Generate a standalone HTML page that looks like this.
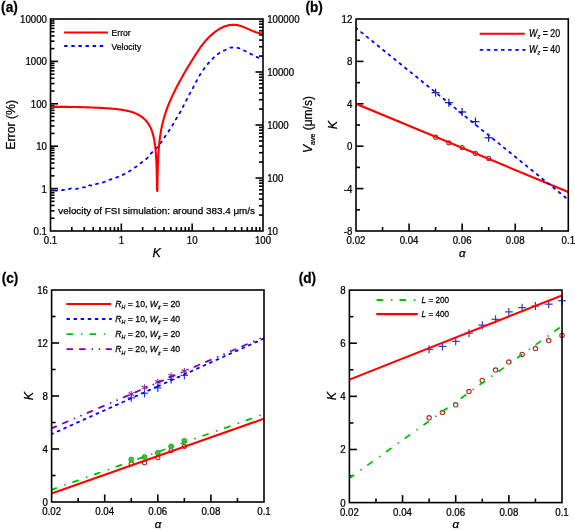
<!DOCTYPE html>
<html><head><meta charset="utf-8"><title>Figure</title>
<style>
html,body{margin:0;padding:0;background:#fff;}
body{width:575px;height:530px;overflow:hidden;}
svg{display:block;font-family:"Liberation Sans", sans-serif;filter:blur(0.3px);}
text{stroke:#000;stroke-width:0.25px;}
</style></head>
<body>
<svg width="575" height="530" viewBox="0 0 575 530">
<rect width="575" height="530" fill="#fff"/>
<defs>
<clipPath id="clipA"><rect x="50.5" y="19.0" width="212.5" height="212.0"/></clipPath>
<clipPath id="clipB"><rect x="356.0" y="19.0" width="212.29999999999995" height="212.0"/></clipPath>
<clipPath id="clipC"><rect x="51.6" y="290.0" width="212.4" height="212.0"/></clipPath>
<clipPath id="clipD"><rect x="349.4" y="290.1" width="212.60000000000002" height="212.5"/></clipPath>
</defs>
<line x1="71.82" y1="231" x2="71.82" y2="227" stroke="#000" stroke-width="1.6" />
<line x1="84.3" y1="231" x2="84.3" y2="227" stroke="#000" stroke-width="1.6" />
<line x1="93.15" y1="231" x2="93.15" y2="227" stroke="#000" stroke-width="1.6" />
<line x1="100.01" y1="231" x2="100.01" y2="227" stroke="#000" stroke-width="1.6" />
<line x1="105.62" y1="231" x2="105.62" y2="227" stroke="#000" stroke-width="1.6" />
<line x1="110.36" y1="231" x2="110.36" y2="227" stroke="#000" stroke-width="1.6" />
<line x1="114.47" y1="231" x2="114.47" y2="227" stroke="#000" stroke-width="1.6" />
<line x1="118.09" y1="231" x2="118.09" y2="227" stroke="#000" stroke-width="1.6" />
<line x1="121.33" y1="231" x2="121.33" y2="223.5" stroke="#000" stroke-width="1.6" />
<line x1="142.66" y1="231" x2="142.66" y2="227" stroke="#000" stroke-width="1.6" />
<line x1="155.13" y1="231" x2="155.13" y2="227" stroke="#000" stroke-width="1.6" />
<line x1="163.98" y1="231" x2="163.98" y2="227" stroke="#000" stroke-width="1.6" />
<line x1="170.84" y1="231" x2="170.84" y2="227" stroke="#000" stroke-width="1.6" />
<line x1="176.45" y1="231" x2="176.45" y2="227" stroke="#000" stroke-width="1.6" />
<line x1="181.19" y1="231" x2="181.19" y2="227" stroke="#000" stroke-width="1.6" />
<line x1="185.3" y1="231" x2="185.3" y2="227" stroke="#000" stroke-width="1.6" />
<line x1="188.93" y1="231" x2="188.93" y2="227" stroke="#000" stroke-width="1.6" />
<line x1="192.17" y1="231" x2="192.17" y2="223.5" stroke="#000" stroke-width="1.6" />
<line x1="213.49" y1="231" x2="213.49" y2="227" stroke="#000" stroke-width="1.6" />
<line x1="225.96" y1="231" x2="225.96" y2="227" stroke="#000" stroke-width="1.6" />
<line x1="234.81" y1="231" x2="234.81" y2="227" stroke="#000" stroke-width="1.6" />
<line x1="241.68" y1="231" x2="241.68" y2="227" stroke="#000" stroke-width="1.6" />
<line x1="247.29" y1="231" x2="247.29" y2="227" stroke="#000" stroke-width="1.6" />
<line x1="252.03" y1="231" x2="252.03" y2="227" stroke="#000" stroke-width="1.6" />
<line x1="256.14" y1="231" x2="256.14" y2="227" stroke="#000" stroke-width="1.6" />
<line x1="259.76" y1="231" x2="259.76" y2="227" stroke="#000" stroke-width="1.6" />
<line x1="50.5" y1="218.24" x2="54.5" y2="218.24" stroke="#000" stroke-width="1.6" />
<line x1="50.5" y1="210.77" x2="54.5" y2="210.77" stroke="#000" stroke-width="1.6" />
<line x1="50.5" y1="205.47" x2="54.5" y2="205.47" stroke="#000" stroke-width="1.6" />
<line x1="50.5" y1="201.36" x2="54.5" y2="201.36" stroke="#000" stroke-width="1.6" />
<line x1="50.5" y1="198.01" x2="54.5" y2="198.01" stroke="#000" stroke-width="1.6" />
<line x1="50.5" y1="195.17" x2="54.5" y2="195.17" stroke="#000" stroke-width="1.6" />
<line x1="50.5" y1="192.71" x2="54.5" y2="192.71" stroke="#000" stroke-width="1.6" />
<line x1="50.5" y1="190.54" x2="54.5" y2="190.54" stroke="#000" stroke-width="1.6" />
<line x1="50.5" y1="188.6" x2="58" y2="188.6" stroke="#000" stroke-width="1.6" />
<line x1="50.5" y1="175.84" x2="54.5" y2="175.84" stroke="#000" stroke-width="1.6" />
<line x1="50.5" y1="168.37" x2="54.5" y2="168.37" stroke="#000" stroke-width="1.6" />
<line x1="50.5" y1="163.07" x2="54.5" y2="163.07" stroke="#000" stroke-width="1.6" />
<line x1="50.5" y1="158.96" x2="54.5" y2="158.96" stroke="#000" stroke-width="1.6" />
<line x1="50.5" y1="155.61" x2="54.5" y2="155.61" stroke="#000" stroke-width="1.6" />
<line x1="50.5" y1="152.77" x2="54.5" y2="152.77" stroke="#000" stroke-width="1.6" />
<line x1="50.5" y1="150.31" x2="54.5" y2="150.31" stroke="#000" stroke-width="1.6" />
<line x1="50.5" y1="148.14" x2="54.5" y2="148.14" stroke="#000" stroke-width="1.6" />
<line x1="50.5" y1="146.2" x2="58" y2="146.2" stroke="#000" stroke-width="1.6" />
<line x1="50.5" y1="133.44" x2="54.5" y2="133.44" stroke="#000" stroke-width="1.6" />
<line x1="50.5" y1="125.97" x2="54.5" y2="125.97" stroke="#000" stroke-width="1.6" />
<line x1="50.5" y1="120.67" x2="54.5" y2="120.67" stroke="#000" stroke-width="1.6" />
<line x1="50.5" y1="116.56" x2="54.5" y2="116.56" stroke="#000" stroke-width="1.6" />
<line x1="50.5" y1="113.21" x2="54.5" y2="113.21" stroke="#000" stroke-width="1.6" />
<line x1="50.5" y1="110.37" x2="54.5" y2="110.37" stroke="#000" stroke-width="1.6" />
<line x1="50.5" y1="107.91" x2="54.5" y2="107.91" stroke="#000" stroke-width="1.6" />
<line x1="50.5" y1="105.74" x2="54.5" y2="105.74" stroke="#000" stroke-width="1.6" />
<line x1="50.5" y1="103.8" x2="58" y2="103.8" stroke="#000" stroke-width="1.6" />
<line x1="50.5" y1="91.04" x2="54.5" y2="91.04" stroke="#000" stroke-width="1.6" />
<line x1="50.5" y1="83.57" x2="54.5" y2="83.57" stroke="#000" stroke-width="1.6" />
<line x1="50.5" y1="78.27" x2="54.5" y2="78.27" stroke="#000" stroke-width="1.6" />
<line x1="50.5" y1="74.16" x2="54.5" y2="74.16" stroke="#000" stroke-width="1.6" />
<line x1="50.5" y1="70.81" x2="54.5" y2="70.81" stroke="#000" stroke-width="1.6" />
<line x1="50.5" y1="67.97" x2="54.5" y2="67.97" stroke="#000" stroke-width="1.6" />
<line x1="50.5" y1="65.51" x2="54.5" y2="65.51" stroke="#000" stroke-width="1.6" />
<line x1="50.5" y1="63.34" x2="54.5" y2="63.34" stroke="#000" stroke-width="1.6" />
<line x1="50.5" y1="61.4" x2="58" y2="61.4" stroke="#000" stroke-width="1.6" />
<line x1="50.5" y1="48.64" x2="54.5" y2="48.64" stroke="#000" stroke-width="1.6" />
<line x1="50.5" y1="41.17" x2="54.5" y2="41.17" stroke="#000" stroke-width="1.6" />
<line x1="50.5" y1="35.87" x2="54.5" y2="35.87" stroke="#000" stroke-width="1.6" />
<line x1="50.5" y1="31.76" x2="54.5" y2="31.76" stroke="#000" stroke-width="1.6" />
<line x1="50.5" y1="28.41" x2="54.5" y2="28.41" stroke="#000" stroke-width="1.6" />
<line x1="50.5" y1="25.57" x2="54.5" y2="25.57" stroke="#000" stroke-width="1.6" />
<line x1="50.5" y1="23.11" x2="54.5" y2="23.11" stroke="#000" stroke-width="1.6" />
<line x1="50.5" y1="20.94" x2="54.5" y2="20.94" stroke="#000" stroke-width="1.6" />
<line x1="263" y1="215.05" x2="259" y2="215.05" stroke="#000" stroke-width="1.6" />
<line x1="263" y1="205.71" x2="259" y2="205.71" stroke="#000" stroke-width="1.6" />
<line x1="263" y1="199.09" x2="259" y2="199.09" stroke="#000" stroke-width="1.6" />
<line x1="263" y1="193.95" x2="259" y2="193.95" stroke="#000" stroke-width="1.6" />
<line x1="263" y1="189.76" x2="259" y2="189.76" stroke="#000" stroke-width="1.6" />
<line x1="263" y1="186.21" x2="259" y2="186.21" stroke="#000" stroke-width="1.6" />
<line x1="263" y1="183.14" x2="259" y2="183.14" stroke="#000" stroke-width="1.6" />
<line x1="263" y1="180.43" x2="259" y2="180.43" stroke="#000" stroke-width="1.6" />
<line x1="263" y1="178" x2="255.5" y2="178" stroke="#000" stroke-width="1.6" />
<line x1="263" y1="162.05" x2="259" y2="162.05" stroke="#000" stroke-width="1.6" />
<line x1="263" y1="152.71" x2="259" y2="152.71" stroke="#000" stroke-width="1.6" />
<line x1="263" y1="146.09" x2="259" y2="146.09" stroke="#000" stroke-width="1.6" />
<line x1="263" y1="140.95" x2="259" y2="140.95" stroke="#000" stroke-width="1.6" />
<line x1="263" y1="136.76" x2="259" y2="136.76" stroke="#000" stroke-width="1.6" />
<line x1="263" y1="133.21" x2="259" y2="133.21" stroke="#000" stroke-width="1.6" />
<line x1="263" y1="130.14" x2="259" y2="130.14" stroke="#000" stroke-width="1.6" />
<line x1="263" y1="127.43" x2="259" y2="127.43" stroke="#000" stroke-width="1.6" />
<line x1="263" y1="125" x2="255.5" y2="125" stroke="#000" stroke-width="1.6" />
<line x1="263" y1="109.05" x2="259" y2="109.05" stroke="#000" stroke-width="1.6" />
<line x1="263" y1="99.71" x2="259" y2="99.71" stroke="#000" stroke-width="1.6" />
<line x1="263" y1="93.09" x2="259" y2="93.09" stroke="#000" stroke-width="1.6" />
<line x1="263" y1="87.95" x2="259" y2="87.95" stroke="#000" stroke-width="1.6" />
<line x1="263" y1="83.76" x2="259" y2="83.76" stroke="#000" stroke-width="1.6" />
<line x1="263" y1="80.21" x2="259" y2="80.21" stroke="#000" stroke-width="1.6" />
<line x1="263" y1="77.14" x2="259" y2="77.14" stroke="#000" stroke-width="1.6" />
<line x1="263" y1="74.43" x2="259" y2="74.43" stroke="#000" stroke-width="1.6" />
<line x1="263" y1="72" x2="255.5" y2="72" stroke="#000" stroke-width="1.6" />
<line x1="263" y1="56.05" x2="259" y2="56.05" stroke="#000" stroke-width="1.6" />
<line x1="263" y1="46.71" x2="259" y2="46.71" stroke="#000" stroke-width="1.6" />
<line x1="263" y1="40.09" x2="259" y2="40.09" stroke="#000" stroke-width="1.6" />
<line x1="263" y1="34.95" x2="259" y2="34.95" stroke="#000" stroke-width="1.6" />
<line x1="263" y1="30.76" x2="259" y2="30.76" stroke="#000" stroke-width="1.6" />
<line x1="263" y1="27.21" x2="259" y2="27.21" stroke="#000" stroke-width="1.6" />
<line x1="263" y1="24.14" x2="259" y2="24.14" stroke="#000" stroke-width="1.6" />
<line x1="263" y1="21.43" x2="259" y2="21.43" stroke="#000" stroke-width="1.6" />
<g clip-path="url(#clipA)">
<polyline points="50.5,190.3 50.93,190.34 51.35,190.38 51.78,190.4 52.2,190.43 52.63,190.46 53.06,190.48 53.48,190.5 53.91,190.53 54.33,190.55 54.76,190.56 55.18,190.58 55.61,190.59 56.04,190.6 56.46,190.6 56.89,190.59 57.31,190.58 57.74,190.55 58.17,190.51 58.59,190.47 59.02,190.42 59.44,190.36 59.87,190.3 60.29,190.25 60.72,190.19 61.15,190.14 61.57,190.09 62,190.05 62.42,190.01 62.85,189.99 63.28,189.96 63.7,189.95 64.13,189.93 64.55,189.92 64.98,189.91 65.4,189.89 65.83,189.87 66.26,189.85 66.68,189.82 67.11,189.79 67.53,189.7 67.96,189.56 68.39,189.38 68.81,189.18 69.24,188.97 69.66,188.79 70.09,188.63 70.52,188.53 70.94,188.5 71.37,188.52 71.79,188.56 72.22,188.61 72.64,188.68 73.07,188.75 73.5,188.83 73.92,188.89 74.35,188.95 74.77,188.99 75.2,189 75.63,188.98 76.05,188.94 76.48,188.86 76.9,188.77 77.33,188.66 77.75,188.54 78.18,188.41 78.61,188.28 79.03,188.15 79.46,188.03 79.88,187.91 80.31,187.82 80.74,187.74 81.16,187.67 81.59,187.62 82.01,187.57 82.44,187.52 82.86,187.47 83.29,187.41 83.72,187.35 84.14,187.27 84.57,187.18 84.99,187.06 85.42,186.87 85.85,186.39 86.27,185.79 86.7,185.32 87.12,185.2 87.55,185.21 87.97,185.23 88.4,185.26 88.83,185.3 89.25,185.34 89.68,185.38 90.1,185.42 90.53,185.45 90.96,185.48 91.38,185.5 91.81,185.5 92.23,185.46 92.66,185.38 93.09,185.26 93.51,185.12 93.94,184.95 94.36,184.77 94.79,184.59 95.21,184.41 95.64,184.25 96.07,184.1 96.49,183.98 96.92,183.87 97.34,183.77 97.77,183.68 98.2,183.59 98.62,183.5 99.05,183.42 99.47,183.33 99.9,183.25 100.32,183.16 100.75,183.07 101.18,182.97 101.6,182.86 102.03,182.75 102.45,182.62 102.88,182.48 103.31,182.33 103.73,182.17 104.16,182 104.58,181.82 105.01,181.63 105.43,181.45 105.86,181.26 106.29,181.07 106.71,180.88 107.14,180.7 107.56,180.53 107.99,180.37 108.42,180.21 108.84,180.05 109.27,179.89 109.69,179.74 110.12,179.58 110.55,179.43 110.97,179.28 111.4,179.13 111.82,178.98 112.25,178.83 112.67,178.68 113.1,178.53 113.53,178.39 113.95,178.25 114.38,178.11 114.8,177.97 115.23,177.84 115.66,177.7 116.08,177.57 116.51,177.43 116.93,177.3 117.36,177.16 117.78,177.01 118.21,176.86 118.64,176.7 119.06,176.54 119.49,176.37 119.91,176.19 120.34,176.01 120.77,175.82 121.19,175.63 121.62,175.43 122.04,175.23 122.47,175.02 122.89,174.81 123.32,174.6 123.75,174.39 124.17,174.17 124.6,173.95 125.02,173.73 125.45,173.51 125.88,173.28 126.3,173.04 126.73,172.8 127.15,172.56 127.58,172.31 128.01,172.06 128.43,171.81 128.86,171.55 129.28,171.29 129.71,171.03 130.13,170.77 130.56,170.5 130.99,170.23 131.41,169.95 131.84,169.67 132.26,169.39 132.69,169.1 133.12,168.81 133.54,168.52 133.97,168.22 134.39,167.92 134.82,167.62 135.24,167.32 135.67,167.01 136.1,166.7 136.52,166.39 136.95,166.08 137.37,165.76 137.8,165.43 138.23,165.11 138.65,164.78 139.08,164.45 139.5,164.12 139.93,163.78 140.35,163.45 140.78,163.12 141.21,162.78 141.63,162.45 142.06,162.13 142.48,161.81 142.91,161.5 143.34,161.19 143.76,160.88 144.19,160.57 144.61,160.26 145.04,159.94 145.46,159.61 145.89,159.27 146.32,158.91 146.74,158.53 147.17,158.13 147.59,157.69 148.02,157.21 148.45,156.69 148.87,156.14 149.3,155.58 149.72,155.01 150.15,154.46 150.58,153.92 151,153.42 151.43,152.96 151.85,152.53 152.28,152.11 152.7,151.71 153.13,151.33 153.56,150.95 153.98,150.58 154.41,150.2 154.83,149.82 155.26,149.44 155.69,149.04 156.11,148.62 156.54,148.19 156.96,147.73 157.39,147.25 157.81,146.74 158.24,146.22 158.67,145.68 159.09,145.13 159.52,144.56 159.94,143.99 160.37,143.41 160.8,142.82 161.22,142.23 161.65,141.62 162.07,141 162.5,140.37 162.92,139.72 163.35,139.07 163.78,138.41 164.2,137.76 164.63,137.11 165.05,136.47 165.48,135.84 165.91,135.21 166.33,134.59 166.76,133.96 167.18,133.34 167.61,132.72 168.04,132.09 168.46,131.46 168.89,130.82 169.31,130.18 169.74,129.53 170.16,128.89 170.59,128.23 171.02,127.58 171.44,126.92 171.87,126.24 172.29,125.56 172.72,124.87 173.15,124.16 173.57,123.43 174,122.68 174.42,121.93 174.85,121.17 175.27,120.41 175.7,119.66 176.13,118.91 176.55,118.18 176.98,117.47 177.4,116.77 177.83,116.09 178.26,115.4 178.68,114.72 179.11,114.02 179.53,113.31 179.96,112.57 180.38,111.81 180.81,111.02 181.24,110.22 181.66,109.4 182.09,108.57 182.51,107.74 182.94,106.9 183.37,106.07 183.79,105.23 184.22,104.37 184.64,103.51 185.07,102.65 185.49,101.79 185.92,100.94 186.35,100.1 186.77,99.28 187.2,98.46 187.62,97.65 188.05,96.85 188.48,96.05 188.9,95.26 189.33,94.47 189.75,93.69 190.18,92.91 190.61,92.15 191.03,91.39 191.46,90.64 191.88,89.89 192.31,89.13 192.73,88.36 193.16,87.57 193.59,86.77 194.01,85.95 194.44,85.12 194.86,84.27 195.29,83.43 195.72,82.59 196.14,81.76 196.57,80.94 196.99,80.14 197.42,79.34 197.84,78.54 198.27,77.74 198.7,76.96 199.12,76.2 199.55,75.45 199.97,74.74 200.4,74.06 200.83,73.39 201.25,72.74 201.68,72.1 202.1,71.48 202.53,70.87 202.95,70.27 203.38,69.68 203.81,69.09 204.23,68.51 204.66,67.94 205.08,67.38 205.51,66.83 205.94,66.29 206.36,65.75 206.79,65.22 207.21,64.7 207.64,64.18 208.07,63.68 208.49,63.18 208.92,62.68 209.34,62.19 209.77,61.71 210.19,61.23 210.62,60.76 211.05,60.29 211.47,59.84 211.9,59.4 212.32,58.97 212.75,58.55 213.18,58.14 213.6,57.73 214.03,57.33 214.45,56.93 214.88,56.54 215.3,56.16 215.73,55.78 216.16,55.42 216.58,55.06 217.01,54.72 217.43,54.39 217.86,54.08 218.29,53.78 218.71,53.49 219.14,53.22 219.56,52.95 219.99,52.7 220.41,52.45 220.84,52.21 221.27,51.97 221.69,51.74 222.12,51.52 222.54,51.3 222.97,51.09 223.4,50.88 223.82,50.67 224.25,50.47 224.67,50.27 225.1,50.05 225.53,49.83 225.95,49.6 226.38,49.37 226.8,49.13 227.23,48.9 227.65,48.68 228.08,48.47 228.51,48.27 228.93,48.08 229.36,47.92 229.78,47.78 230.21,47.66 230.64,47.58 231.06,47.52 231.49,47.5 231.91,47.5 232.34,47.51 232.76,47.52 233.19,47.54 233.62,47.56 234.04,47.59 234.47,47.62 234.89,47.65 235.32,47.69 235.75,47.73 236.17,47.77 236.6,47.82 237.02,47.87 237.45,47.92 237.87,47.97 238.3,48.03 238.73,48.11 239.15,48.22 239.58,48.35 240,48.51 240.43,48.68 240.86,48.87 241.28,49.06 241.71,49.27 242.13,49.49 242.56,49.71 242.98,49.94 243.41,50.16 243.84,50.38 244.26,50.59 244.69,50.79 245.11,51 245.54,51.2 245.97,51.41 246.39,51.63 246.82,51.85 247.24,52.07 247.67,52.29 248.1,52.52 248.52,52.74 248.95,52.97 249.37,53.19 249.8,53.42 250.22,53.64 250.65,53.87 251.08,54.09 251.5,54.3 251.93,54.52 252.35,54.73 252.78,54.95 253.21,55.16 253.63,55.38 254.06,55.59 254.48,55.8 254.91,56.01 255.33,56.23 255.76,56.44 256.19,56.65 256.61,56.86 257.04,57.07 257.46,57.28 257.89,57.49 258.32,57.71 258.74,57.92 259.17,58.13 259.59,58.34 260.02,58.54 260.44,58.75 260.87,58.96 261.3,59.17 261.72,59.38 262.15,59.59 262.57,59.79 263,60" fill="none" stroke="#0000ff" stroke-width="1.8" stroke-linejoin="round"  stroke-dasharray="2.000 5.100" stroke-dashoffset="2.600" stroke-linecap="round"/>
<polyline points="50.5,106.9 51.14,106.89 51.77,106.89 52.41,106.88 53.05,106.88 53.69,106.87 54.33,106.87 54.96,106.87 55.6,106.87 56.24,106.86 56.88,106.86 57.51,106.86 58.15,106.86 58.79,106.86 59.42,106.86 60.06,106.86 60.7,106.86 61.34,106.87 61.98,106.87 62.61,106.87 63.25,106.88 63.89,106.88 64.53,106.88 65.16,106.89 65.8,106.89 66.44,106.9 67.08,106.91 67.71,106.91 68.35,106.92 68.99,106.93 69.62,106.94 70.26,106.94 70.9,106.95 71.54,106.96 72.18,106.97 72.81,106.98 73.45,106.99 74.09,107 74.73,107.02 75.36,107.03 76,107.04 76.64,107.05 77.28,107.07 77.91,107.08 78.55,107.1 79.19,107.11 79.83,107.13 80.46,107.14 81.1,107.16 81.74,107.18 82.38,107.19 83.01,107.21 83.65,107.23 84.29,107.25 84.93,107.27 85.56,107.29 86.2,107.31 86.84,107.33 87.47,107.35 88.11,107.37 88.75,107.39 89.39,107.42 90.03,107.44 90.66,107.46 91.3,107.49 91.94,107.51 92.57,107.54 93.21,107.57 93.85,107.59 94.49,107.62 95.12,107.65 95.76,107.68 96.4,107.7 97.04,107.73 97.67,107.76 98.31,107.8 98.95,107.83 99.59,107.86 100.22,107.89 100.86,107.92 101.5,107.96 102.14,107.99 102.78,108.03 103.41,108.07 104.05,108.1 104.69,108.14 105.33,108.18 105.96,108.22 106.6,108.26 107.24,108.3 107.88,108.35 108.51,108.39 109.15,108.44 109.79,108.49 110.42,108.54 111.06,108.59 111.7,108.64 112.34,108.7 112.97,108.75 113.61,108.81 114.25,108.87 114.89,108.93 115.53,109 116.16,109.07 116.8,109.14 117.44,109.21 118.08,109.29 118.71,109.36 119.35,109.45 119.99,109.53 120.62,109.62 121.26,109.71 121.9,109.81 122.54,109.91 123.18,110.01 123.81,110.12 124.45,110.23 125.09,110.35 125.73,110.47 126.36,110.6 127,110.74 127.64,110.88 128.28,111.03 128.91,111.18 129.55,111.35 130.19,111.52 130.83,111.7 131.46,111.89 132.1,112.08 132.74,112.29 133.38,112.52 133.94,112.72 134.51,112.94 135.07,113.16 135.64,113.4 136.21,113.65 136.77,113.91 137.34,114.18 137.91,114.47 138.47,114.77 139.04,115.09 139.61,115.42 140.18,115.77 140.74,116.14 141.31,116.52 141.8,116.88 142.3,117.25 142.8,117.64 143.29,118.05 143.79,118.48 144.28,118.93 144.78,119.41 145.2,119.83 145.63,120.28 146.05,120.75 146.48,121.24 146.9,121.75 147.33,122.29 147.75,122.86 148.11,123.36 148.46,123.89 148.82,124.44 149.17,125.02 149.53,125.64 149.88,126.29 150.16,126.83 150.45,127.41 150.73,128.02 151.01,128.66 151.3,129.34 151.58,130.06 151.79,130.63 152,131.22 152.22,131.85 152.43,132.51 152.64,133.21 152.85,133.94 153.07,134.72 153.28,135.55 153.49,136.43 153.63,137.04 153.77,137.69 153.92,138.37 154.06,139.08 154.2,139.83 154.34,140.62 154.48,141.45 154.62,142.34 154.77,143.27 154.91,144.27 155.05,145.34 155.19,146.49 155.26,147.09 155.33,147.72 155.4,148.38 155.47,149.06 155.55,149.78 155.62,150.52 155.69,151.31 155.76,152.13 155.83,153 155.9,153.91 155.97,154.88 156.04,155.9 156.11,156.99 156.18,158.16 156.25,159.42 156.32,160.77 156.4,162.24 156.47,163.84 156.54,165.61 156.61,167.58 156.68,169.79 156.75,172.33 156.82,175.29 156.89,178.83 156.96,183.25 157.03,189.12 157.22,190.95 157.39,190.91 157.46,184.35 157.53,179.51 157.6,175.66 157.67,172.46 157.74,169.72 157.81,167.33 157.88,165.19 157.95,163.28 158.03,161.53 158.1,159.92 158.17,158.44 158.24,157.06 158.31,155.77 158.38,154.56 158.45,153.42 158.52,152.33 158.59,151.31 158.66,150.33 158.73,149.39 158.8,148.5 158.88,147.64 158.95,146.82 159.02,146.03 159.09,145.26 159.16,144.53 159.23,143.81 159.3,143.12 159.37,142.46 159.44,141.81 159.51,141.18 159.58,140.57 159.65,139.97 159.8,138.82 159.94,137.73 160.08,136.69 160.22,135.7 160.36,134.74 160.5,133.83 160.65,132.94 160.79,132.09 160.93,131.27 161.07,130.47 161.21,129.7 161.35,128.95 161.5,128.22 161.64,127.51 161.78,126.83 161.92,126.15 162.06,125.5 162.2,124.86 162.35,124.24 162.49,123.62 162.63,123.03 162.77,122.44 162.98,121.58 163.2,120.75 163.41,119.94 163.62,119.16 163.83,118.39 164.05,117.64 164.26,116.91 164.47,116.19 164.68,115.49 164.9,114.8 165.11,114.13 165.32,113.47 165.53,112.82 165.75,112.18 165.96,111.55 166.17,110.94 166.38,110.33 166.6,109.73 166.81,109.15 167.02,108.57 167.23,107.99 167.45,107.43 167.73,106.69 168.01,105.96 168.3,105.24 168.58,104.53 168.86,103.83 169.15,103.15 169.43,102.47 169.71,101.8 170,101.13 170.28,100.48 170.56,99.83 170.85,99.19 171.13,98.56 171.41,97.93 171.7,97.31 171.98,96.69 172.26,96.08 172.55,95.47 172.83,94.87 173.11,94.27 173.4,93.68 173.68,93.09 173.96,92.51 174.25,91.93 174.53,91.35 174.81,90.78 175.1,90.21 175.38,89.64 175.66,89.08 175.95,88.52 176.23,87.97 176.51,87.41 176.8,86.86 177.08,86.32 177.36,85.77 177.65,85.23 177.93,84.69 178.21,84.16 178.5,83.62 178.78,83.09 179.13,82.43 179.49,81.77 179.84,81.12 180.2,80.47 180.55,79.82 180.9,79.18 181.26,78.54 181.61,77.9 181.97,77.27 182.32,76.64 182.68,76.01 183.03,75.39 183.38,74.77 183.74,74.15 184.09,73.53 184.45,72.92 184.8,72.31 185.15,71.7 185.51,71.09 185.86,70.49 186.22,69.89 186.57,69.29 186.93,68.69 187.28,68.1 187.63,67.51 187.99,66.92 188.34,66.33 188.7,65.75 189.05,65.16 189.4,64.58 189.76,64 190.11,63.42 190.47,62.85 190.82,62.27 191.18,61.7 191.53,61.13 191.88,60.56 192.24,59.99 192.59,59.42 192.95,58.86 193.3,58.29 193.65,57.73 194.01,57.17 194.36,56.61 194.72,56.05 195.07,55.49 195.43,54.94 195.78,54.38 196.13,53.83 196.49,53.28 196.84,52.73 197.2,52.18 197.55,51.64 197.9,51.1 198.26,50.57 198.61,50.04 198.97,49.51 199.32,48.99 199.67,48.48 200.03,47.97 200.38,47.47 200.74,46.97 201.09,46.48 201.52,45.91 201.94,45.34 202.37,44.78 202.79,44.23 203.22,43.69 203.64,43.16 204.07,42.64 204.49,42.13 204.92,41.62 205.34,41.13 205.77,40.64 206.19,40.16 206.62,39.69 207.04,39.23 207.47,38.77 207.89,38.32 208.32,37.88 208.74,37.45 209.17,37.03 209.66,36.54 210.16,36.06 210.65,35.6 211.15,35.14 211.65,34.69 212.14,34.26 212.64,33.83 213.13,33.41 213.63,33 214.12,32.6 214.62,32.21 215.12,31.83 215.61,31.46 216.11,31.1 216.6,30.75 217.1,30.41 217.67,30.03 218.23,29.67 218.8,29.32 219.37,28.98 219.93,28.65 220.5,28.34 221.07,28.04 221.63,27.75 222.2,27.48 222.77,27.22 223.33,26.97 223.9,26.74 224.47,26.52 225.03,26.31 225.67,26.09 226.31,25.89 226.95,25.71 227.58,25.54 228.22,25.39 228.86,25.26 229.5,25.14 230.13,25.04 230.77,24.96 231.41,24.9 232.05,24.86 232.68,24.83 233.32,24.82 233.96,24.82 234.6,24.85 235.23,24.89 235.87,24.95 236.51,25.03 237.15,25.13 237.78,25.24 238.42,25.38 239.06,25.53 239.7,25.7 240.33,25.88 240.97,26.09 241.61,26.3 242.18,26.5 242.74,26.71 243.31,26.93 243.88,27.16 244.44,27.39 245.01,27.63 245.58,27.87 246.14,28.12 246.71,28.37 247.28,28.63 247.84,28.88 248.41,29.14 248.98,29.4 249.54,29.65 250.11,29.9 250.68,30.16 251.24,30.4 251.81,30.65 252.38,30.89 252.94,31.12 253.51,31.35 254.08,31.56 254.64,31.77 255.21,31.97 255.85,32.19 256.48,32.39 257.12,32.57 257.76,32.74 258.4,32.89 259.03,33.02 259.67,33.13 260.31,33.22 260.95,33.29 261.58,33.33 262.22,33.35 262.86,33.34 263,33.33" fill="none" stroke="#ff0000" stroke-width="2.1" stroke-linejoin="round"  />
</g>
<rect x="50.5" y="19" width="212.5" height="212" fill="none" stroke="#000" stroke-width="1.6"/>
<line x1="64" y1="32.5" x2="108" y2="32.5" stroke="#ff0000" stroke-width="2.1" />
<line x1="64" y1="46" x2="103" y2="46" stroke="#0000ff" stroke-width="1.8" stroke-dasharray="2.000 5.100" stroke-dashoffset="-0.900" stroke-linecap="round"/>
<text transform="translate(111.5,36) scale(0.9,1)" font-size="9.6" text-anchor="start" font-weight="normal" font-style="normal" fill="#000">Error</text>
<text transform="translate(111.5,49.6) scale(0.9,1)" font-size="9.6" text-anchor="start" font-weight="normal" font-style="normal" fill="#000">Velocity</text>
<text transform="translate(58.3,213.6)" font-size="9.85" text-anchor="start" font-weight="normal" font-style="normal" fill="#000">velocity of FSI simulation: around 383.4 μm/s</text>
<text transform="translate(47,22.9) scale(0.97,1)" font-size="10.0" text-anchor="end" font-weight="normal" font-style="normal" fill="#000">10000</text>
<text transform="translate(47,65.3) scale(0.97,1)" font-size="10.0" text-anchor="end" font-weight="normal" font-style="normal" fill="#000">1000</text>
<text transform="translate(47,107.7) scale(0.97,1)" font-size="10.0" text-anchor="end" font-weight="normal" font-style="normal" fill="#000">100</text>
<text transform="translate(47,150.1) scale(0.97,1)" font-size="10.0" text-anchor="end" font-weight="normal" font-style="normal" fill="#000">10</text>
<text transform="translate(47,192.5) scale(0.97,1)" font-size="10.0" text-anchor="end" font-weight="normal" font-style="normal" fill="#000">1</text>
<text transform="translate(47,234.9) scale(0.97,1)" font-size="10.0" text-anchor="end" font-weight="normal" font-style="normal" fill="#000">0.1</text>
<text transform="translate(267.2,22.9) scale(0.97,1)" font-size="10.0" text-anchor="start" font-weight="normal" font-style="normal" fill="#000">100000</text>
<text transform="translate(267.2,75.9) scale(0.97,1)" font-size="10.0" text-anchor="start" font-weight="normal" font-style="normal" fill="#000">10000</text>
<text transform="translate(267.2,128.9) scale(0.97,1)" font-size="10.0" text-anchor="start" font-weight="normal" font-style="normal" fill="#000">1000</text>
<text transform="translate(267.2,181.9) scale(0.97,1)" font-size="10.0" text-anchor="start" font-weight="normal" font-style="normal" fill="#000">100</text>
<text transform="translate(267.2,234.9) scale(0.97,1)" font-size="10.0" text-anchor="start" font-weight="normal" font-style="normal" fill="#000">10</text>
<text transform="translate(50.5,244.2) scale(0.97,1)" font-size="10.0" text-anchor="middle" font-weight="normal" font-style="normal" fill="#000">0.1</text>
<text transform="translate(121.33,244.2) scale(0.97,1)" font-size="10.0" text-anchor="middle" font-weight="normal" font-style="normal" fill="#000">1</text>
<text transform="translate(192.17,244.2) scale(0.97,1)" font-size="10.0" text-anchor="middle" font-weight="normal" font-style="normal" fill="#000">10</text>
<text transform="translate(263,244.2) scale(0.97,1)" font-size="10.0" text-anchor="middle" font-weight="normal" font-style="normal" fill="#000">100</text>
<text transform="translate(156.7,257)" font-size="12.5" text-anchor="middle" font-weight="normal" font-style="italic" fill="#000">K</text>
<text transform="translate(15.4,124.8) rotate(-90)" font-size="12.3" text-anchor="middle" font-weight="normal" font-style="normal" fill="#000">Error (%)</text>
<text transform="translate(312.2,124.5) rotate(-90)" font-size="12" text-anchor="middle"><tspan font-style="italic">V</tspan><tspan font-size="7" dy="2.5">ave</tspan><tspan dy="-2.5"> (μm/s)</tspan></text>
<text transform="translate(1.1,11.5) scale(0.945,1)" font-size="14.4" text-anchor="start" font-weight="bold" font-style="normal" fill="#000">(a)</text>
<line x1="382.54" y1="231" x2="382.54" y2="227" stroke="#000" stroke-width="1.6" />
<line x1="409.07" y1="231" x2="409.07" y2="223.5" stroke="#000" stroke-width="1.6" />
<line x1="435.61" y1="231" x2="435.61" y2="227" stroke="#000" stroke-width="1.6" />
<line x1="462.15" y1="231" x2="462.15" y2="223.5" stroke="#000" stroke-width="1.6" />
<line x1="488.69" y1="231" x2="488.69" y2="227" stroke="#000" stroke-width="1.6" />
<line x1="515.22" y1="231" x2="515.22" y2="223.5" stroke="#000" stroke-width="1.6" />
<line x1="541.76" y1="231" x2="541.76" y2="227" stroke="#000" stroke-width="1.6" />
<line x1="356" y1="209.8" x2="360" y2="209.8" stroke="#000" stroke-width="1.6" />
<line x1="356" y1="188.6" x2="363.5" y2="188.6" stroke="#000" stroke-width="1.6" />
<line x1="356" y1="167.4" x2="360" y2="167.4" stroke="#000" stroke-width="1.6" />
<line x1="356" y1="146.2" x2="363.5" y2="146.2" stroke="#000" stroke-width="1.6" />
<line x1="356" y1="125" x2="360" y2="125" stroke="#000" stroke-width="1.6" />
<line x1="356" y1="103.8" x2="363.5" y2="103.8" stroke="#000" stroke-width="1.6" />
<line x1="356" y1="82.6" x2="360" y2="82.6" stroke="#000" stroke-width="1.6" />
<line x1="356" y1="61.4" x2="363.5" y2="61.4" stroke="#000" stroke-width="1.6" />
<line x1="356" y1="40.2" x2="360" y2="40.2" stroke="#000" stroke-width="1.6" />
<circle cx="435.61" cy="137.19" r="2.1" fill="none" stroke="#b02828" stroke-width="1.1"/>
<circle cx="448.88" cy="142.81" r="2.1" fill="none" stroke="#b02828" stroke-width="1.1"/>
<circle cx="462.15" cy="147.58" r="2.1" fill="none" stroke="#b02828" stroke-width="1.1"/>
<circle cx="475.42" cy="153.3" r="2.1" fill="none" stroke="#b02828" stroke-width="1.1"/>
<circle cx="488.69" cy="158.39" r="2.1" fill="none" stroke="#b02828" stroke-width="1.1"/>
<line x1="431.61" y1="92.67" x2="439.61" y2="92.67" stroke="#1c1ca8" stroke-width="1.25" />
<line x1="435.61" y1="88.67" x2="435.61" y2="96.67" stroke="#1c1ca8" stroke-width="1.25" />
<line x1="444.88" y1="102.63" x2="452.88" y2="102.63" stroke="#1c1ca8" stroke-width="1.25" />
<line x1="448.88" y1="98.63" x2="448.88" y2="106.63" stroke="#1c1ca8" stroke-width="1.25" />
<line x1="458.15" y1="111.96" x2="466.15" y2="111.96" stroke="#1c1ca8" stroke-width="1.25" />
<line x1="462.15" y1="107.96" x2="462.15" y2="115.96" stroke="#1c1ca8" stroke-width="1.25" />
<line x1="471.42" y1="121.61" x2="479.42" y2="121.61" stroke="#1c1ca8" stroke-width="1.25" />
<line x1="475.42" y1="117.61" x2="475.42" y2="125.61" stroke="#1c1ca8" stroke-width="1.25" />
<line x1="484.69" y1="137.72" x2="492.69" y2="137.72" stroke="#1c1ca8" stroke-width="1.25" />
<line x1="488.69" y1="133.72" x2="488.69" y2="141.72" stroke="#1c1ca8" stroke-width="1.25" />
<g clip-path="url(#clipB)">
<line x1="356" y1="103.8" x2="568.3" y2="191.99" stroke="#ff0000" stroke-width="2.1" />
<line x1="356" y1="28.01" x2="568.3" y2="199.73" stroke="#0000ff" stroke-width="1.8" stroke-dasharray="1.980 5.080" stroke-dashoffset="0.440" stroke-linecap="round"/>
</g>
<rect x="356" y="19" width="212.3" height="212" fill="none" stroke="#000" stroke-width="1.6"/>
<line x1="479.6" y1="33.7" x2="524.8" y2="33.7" stroke="#ff0000" stroke-width="2.1" />
<line x1="479.6" y1="49.9" x2="524.8" y2="49.9" stroke="#0000ff" stroke-width="1.8" stroke-dasharray="2.000 5.100" stroke-dashoffset="-0.900" stroke-linecap="round"/>
<text transform="translate(529.1,36.8) scale(0.88,1)" font-size="10"><tspan font-style="italic">W</tspan><tspan font-style="italic" font-size="6.5" dy="2.2">z</tspan><tspan dy="-2.2"> = 20</tspan></text>
<text transform="translate(529.1,52.8) scale(0.88,1)" font-size="10"><tspan font-style="italic">W</tspan><tspan font-style="italic" font-size="6.5" dy="2.2">z</tspan><tspan dy="-2.2"> = 40</tspan></text>
<text transform="translate(352.3,22.9) scale(0.97,1)" font-size="10.0" text-anchor="end" font-weight="normal" font-style="normal" fill="#000">12</text>
<text transform="translate(352.3,65.3) scale(0.97,1)" font-size="10.0" text-anchor="end" font-weight="normal" font-style="normal" fill="#000">8</text>
<text transform="translate(352.3,107.7) scale(0.97,1)" font-size="10.0" text-anchor="end" font-weight="normal" font-style="normal" fill="#000">4</text>
<text transform="translate(352.3,150.1) scale(0.97,1)" font-size="10.0" text-anchor="end" font-weight="normal" font-style="normal" fill="#000">0</text>
<text transform="translate(352.3,192.5) scale(0.97,1)" font-size="10.0" text-anchor="end" font-weight="normal" font-style="normal" fill="#000">-4</text>
<text transform="translate(352.3,234.9) scale(0.97,1)" font-size="10.0" text-anchor="end" font-weight="normal" font-style="normal" fill="#000">-8</text>
<text transform="translate(356,243.9) scale(0.97,1)" font-size="10.0" text-anchor="middle" font-weight="normal" font-style="normal" fill="#000">0.02</text>
<text transform="translate(409.07,243.9) scale(0.97,1)" font-size="10.0" text-anchor="middle" font-weight="normal" font-style="normal" fill="#000">0.04</text>
<text transform="translate(462.15,243.9) scale(0.97,1)" font-size="10.0" text-anchor="middle" font-weight="normal" font-style="normal" fill="#000">0.06</text>
<text transform="translate(515.22,243.9) scale(0.97,1)" font-size="10.0" text-anchor="middle" font-weight="normal" font-style="normal" fill="#000">0.08</text>
<text transform="translate(568.3,243.9) scale(0.97,1)" font-size="10.0" text-anchor="middle" font-weight="normal" font-style="normal" fill="#000">0.1</text>
<text transform="translate(462.2,257.3)" font-size="11.6" text-anchor="middle" font-weight="normal" font-style="italic" fill="#000">α</text>
<text transform="translate(337,125) rotate(-90)" font-size="12.5" text-anchor="middle" font-weight="normal" font-style="italic" fill="#000">K</text>
<text transform="translate(305.4,11.5) scale(0.945,1)" font-size="14.4" text-anchor="start" font-weight="bold" font-style="normal" fill="#000">(b)</text>
<line x1="78.15" y1="502" x2="78.15" y2="498" stroke="#000" stroke-width="1.6" />
<line x1="104.7" y1="502" x2="104.7" y2="494.5" stroke="#000" stroke-width="1.6" />
<line x1="131.25" y1="502" x2="131.25" y2="498" stroke="#000" stroke-width="1.6" />
<line x1="157.8" y1="502" x2="157.8" y2="494.5" stroke="#000" stroke-width="1.6" />
<line x1="184.35" y1="502" x2="184.35" y2="498" stroke="#000" stroke-width="1.6" />
<line x1="210.9" y1="502" x2="210.9" y2="494.5" stroke="#000" stroke-width="1.6" />
<line x1="237.45" y1="502" x2="237.45" y2="498" stroke="#000" stroke-width="1.6" />
<line x1="51.6" y1="475.5" x2="55.6" y2="475.5" stroke="#000" stroke-width="1.6" />
<line x1="51.6" y1="449" x2="59.1" y2="449" stroke="#000" stroke-width="1.6" />
<line x1="51.6" y1="422.5" x2="55.6" y2="422.5" stroke="#000" stroke-width="1.6" />
<line x1="51.6" y1="396" x2="59.1" y2="396" stroke="#000" stroke-width="1.6" />
<line x1="51.6" y1="369.5" x2="55.6" y2="369.5" stroke="#000" stroke-width="1.6" />
<line x1="51.6" y1="343" x2="59.1" y2="343" stroke="#000" stroke-width="1.6" />
<line x1="51.6" y1="316.5" x2="55.6" y2="316.5" stroke="#000" stroke-width="1.6" />
<circle cx="131.25" cy="463.71" r="2.1" fill="none" stroke="#b02828" stroke-width="1.1"/>
<circle cx="144.53" cy="462.65" r="2.1" fill="none" stroke="#b02828" stroke-width="1.1"/>
<circle cx="157.8" cy="457.61" r="2.1" fill="none" stroke="#b02828" stroke-width="1.1"/>
<circle cx="171.08" cy="450.59" r="2.1" fill="none" stroke="#b02828" stroke-width="1.1"/>
<circle cx="184.35" cy="446.35" r="2.1" fill="none" stroke="#b02828" stroke-width="1.1"/>
<circle cx="131.25" cy="459.47" r="2.55" fill="#38c038" stroke="#1e961e" stroke-width="0.6"/>
<circle cx="144.53" cy="456.95" r="2.55" fill="#38c038" stroke="#1e961e" stroke-width="0.6"/>
<circle cx="157.8" cy="452.84" r="2.55" fill="#38c038" stroke="#1e961e" stroke-width="0.6"/>
<circle cx="171.08" cy="446.35" r="2.55" fill="#38c038" stroke="#1e961e" stroke-width="0.6"/>
<circle cx="184.35" cy="440.78" r="2.55" fill="#38c038" stroke="#1e961e" stroke-width="0.6"/>
<line x1="127.55" y1="397.86" x2="134.95" y2="397.86" stroke="#2238ec" stroke-width="1.15" />
<line x1="131.25" y1="393.66" x2="131.25" y2="402.06" stroke="#2238ec" stroke-width="1.15" />
<line x1="140.83" y1="393.22" x2="148.22" y2="393.22" stroke="#2238ec" stroke-width="1.15" />
<line x1="144.53" y1="389.02" x2="144.53" y2="397.42" stroke="#2238ec" stroke-width="1.15" />
<line x1="154.1" y1="387.92" x2="161.5" y2="387.92" stroke="#2238ec" stroke-width="1.15" />
<line x1="157.8" y1="383.72" x2="157.8" y2="392.12" stroke="#2238ec" stroke-width="1.15" />
<line x1="167.38" y1="379.44" x2="174.78" y2="379.44" stroke="#2238ec" stroke-width="1.15" />
<line x1="171.08" y1="375.24" x2="171.08" y2="383.64" stroke="#2238ec" stroke-width="1.15" />
<line x1="180.65" y1="375.33" x2="188.05" y2="375.33" stroke="#2238ec" stroke-width="1.15" />
<line x1="184.35" y1="371.13" x2="184.35" y2="379.53" stroke="#2238ec" stroke-width="1.15" />
<line x1="131.25" y1="390.94" x2="131.25" y2="397.34" stroke="#8a2aa0" stroke-width="1.1" />
<line x1="128.48" y1="392.54" x2="134.02" y2="395.75" stroke="#8a2aa0" stroke-width="1.1" />
<line x1="128.48" y1="395.75" x2="134.02" y2="392.54" stroke="#8a2aa0" stroke-width="1.1" />
<line x1="144.53" y1="384.32" x2="144.53" y2="390.72" stroke="#8a2aa0" stroke-width="1.1" />
<line x1="141.75" y1="385.92" x2="147.3" y2="389.12" stroke="#8a2aa0" stroke-width="1.1" />
<line x1="141.75" y1="389.12" x2="147.3" y2="385.92" stroke="#8a2aa0" stroke-width="1.1" />
<line x1="157.8" y1="378.75" x2="157.8" y2="385.15" stroke="#8a2aa0" stroke-width="1.1" />
<line x1="155.03" y1="380.35" x2="160.57" y2="383.56" stroke="#8a2aa0" stroke-width="1.1" />
<line x1="155.03" y1="383.56" x2="160.57" y2="380.35" stroke="#8a2aa0" stroke-width="1.1" />
<line x1="171.08" y1="372.53" x2="171.08" y2="378.93" stroke="#8a2aa0" stroke-width="1.1" />
<line x1="168.3" y1="374.13" x2="173.85" y2="377.33" stroke="#8a2aa0" stroke-width="1.1" />
<line x1="168.3" y1="377.33" x2="173.85" y2="374.13" stroke="#8a2aa0" stroke-width="1.1" />
<line x1="184.35" y1="367.89" x2="184.35" y2="374.29" stroke="#8a2aa0" stroke-width="1.1" />
<line x1="181.58" y1="369.49" x2="187.12" y2="372.69" stroke="#8a2aa0" stroke-width="1.1" />
<line x1="181.58" y1="372.69" x2="187.12" y2="369.49" stroke="#8a2aa0" stroke-width="1.1" />
<g clip-path="url(#clipC)">
<line x1="51.6" y1="434.16" x2="157.8" y2="386.33" stroke="#0000ff" stroke-width="1.8" stroke-dasharray="2.000 5.100" stroke-dashoffset="0.450" stroke-linecap="round"/>
<line x1="157.8" y1="386.33" x2="264" y2="338.5" stroke="#0000ff" stroke-width="1.8" stroke-dasharray="2.000 5.100" stroke-dashoffset="-0.430" stroke-linecap="round"/>
<line x1="51.6" y1="428.33" x2="157.8" y2="382.62" stroke="#8000c0" stroke-width="1.8" stroke-dasharray="5.200 7.400 5.200 7.400 0.010 7.090 0.010 7.090" stroke-dashoffset="0.320" stroke-linecap="round"/>
<line x1="157.8" y1="382.62" x2="264" y2="336.9" stroke="#8000c0" stroke-width="1.8" stroke-dasharray="5.200 7.400 5.200 7.400 0.010 7.090 0.010 7.090" stroke-dashoffset="-0.500" stroke-linecap="round"/>
<line x1="51.6" y1="489.81" x2="264" y2="414.02" stroke="#00c000" stroke-width="1.8" stroke-dasharray="5.200 9.300 0.010 8.490" stroke-dashoffset="0.200" stroke-linecap="round"/>
<line x1="51.6" y1="493.52" x2="264" y2="418.66" stroke="#ff0000" stroke-width="2.1" />
</g>
<rect x="51.6" y="290" width="212.4" height="212" fill="none" stroke="#000" stroke-width="1.6"/>
<line x1="66.3" y1="304" x2="111.1" y2="304" stroke="#ff0000" stroke-width="2.1" />
<line x1="66.3" y1="319" x2="111.1" y2="319" stroke="#0000ff" stroke-width="1.8" stroke-dasharray="2.000 5.100" stroke-dashoffset="-0.900" stroke-linecap="round"/>
<line x1="66.3" y1="334.1" x2="111.1" y2="334.1" stroke="#00c000" stroke-width="1.8" stroke-dasharray="5.200 9.300 0.010 8.490" stroke-dashoffset="-0.900" stroke-linecap="round"/>
<line x1="66.3" y1="349.2" x2="111.1" y2="349.2" stroke="#8000c0" stroke-width="1.8" stroke-dasharray="5.200 7.400 5.200 7.400 0.010 7.090 0.010 7.090" stroke-dashoffset="-0.900" stroke-linecap="round"/>
<text transform="translate(115.3,306.8) scale(0.945,1)" font-size="9.2"><tspan font-style="italic">R</tspan><tspan font-style="italic" font-size="5.6" dy="2.5">H</tspan><tspan dy="-2.5"> = 10, </tspan><tspan font-style="italic">W</tspan><tspan font-style="italic" font-size="5.6" dy="2.5">z</tspan><tspan dy="-2.5"> = 20</tspan></text>
<text transform="translate(115.3,321.8) scale(0.945,1)" font-size="9.2"><tspan font-style="italic">R</tspan><tspan font-style="italic" font-size="5.6" dy="2.5">H</tspan><tspan dy="-2.5"> = 10, </tspan><tspan font-style="italic">W</tspan><tspan font-style="italic" font-size="5.6" dy="2.5">z</tspan><tspan dy="-2.5"> = 40</tspan></text>
<text transform="translate(115.3,336.9) scale(0.945,1)" font-size="9.2"><tspan font-style="italic">R</tspan><tspan font-style="italic" font-size="5.6" dy="2.5">H</tspan><tspan dy="-2.5"> = 20, </tspan><tspan font-style="italic">W</tspan><tspan font-style="italic" font-size="5.6" dy="2.5">z</tspan><tspan dy="-2.5"> = 20</tspan></text>
<text transform="translate(115.3,352.0) scale(0.945,1)" font-size="9.2"><tspan font-style="italic">R</tspan><tspan font-style="italic" font-size="5.6" dy="2.5">H</tspan><tspan dy="-2.5"> = 20, </tspan><tspan font-style="italic">W</tspan><tspan font-style="italic" font-size="5.6" dy="2.5">z</tspan><tspan dy="-2.5"> = 40</tspan></text>
<text transform="translate(48,293.9) scale(0.97,1)" font-size="10.0" text-anchor="end" font-weight="normal" font-style="normal" fill="#000">16</text>
<text transform="translate(48,346.9) scale(0.97,1)" font-size="10.0" text-anchor="end" font-weight="normal" font-style="normal" fill="#000">12</text>
<text transform="translate(48,399.9) scale(0.97,1)" font-size="10.0" text-anchor="end" font-weight="normal" font-style="normal" fill="#000">8</text>
<text transform="translate(48,452.9) scale(0.97,1)" font-size="10.0" text-anchor="end" font-weight="normal" font-style="normal" fill="#000">4</text>
<text transform="translate(48,505.9) scale(0.97,1)" font-size="10.0" text-anchor="end" font-weight="normal" font-style="normal" fill="#000">0</text>
<text transform="translate(51.6,515.3) scale(0.97,1)" font-size="10.0" text-anchor="middle" font-weight="normal" font-style="normal" fill="#000">0.02</text>
<text transform="translate(104.7,515.3) scale(0.97,1)" font-size="10.0" text-anchor="middle" font-weight="normal" font-style="normal" fill="#000">0.04</text>
<text transform="translate(157.8,515.3) scale(0.97,1)" font-size="10.0" text-anchor="middle" font-weight="normal" font-style="normal" fill="#000">0.06</text>
<text transform="translate(210.9,515.3) scale(0.97,1)" font-size="10.0" text-anchor="middle" font-weight="normal" font-style="normal" fill="#000">0.08</text>
<text transform="translate(264,515.3) scale(0.97,1)" font-size="10.0" text-anchor="middle" font-weight="normal" font-style="normal" fill="#000">0.1</text>
<text transform="translate(158,528)" font-size="11.6" text-anchor="middle" font-weight="normal" font-style="italic" fill="#000">α</text>
<text transform="translate(33.1,396) rotate(-90)" font-size="12.5" text-anchor="middle" font-weight="normal" font-style="italic" fill="#000">K</text>
<text transform="translate(1.7,282.6) scale(0.945,1)" font-size="14.4" text-anchor="start" font-weight="bold" font-style="normal" fill="#000">(c)</text>
<line x1="375.97" y1="502.6" x2="375.97" y2="498.6" stroke="#000" stroke-width="1.6" />
<line x1="402.55" y1="502.6" x2="402.55" y2="495.1" stroke="#000" stroke-width="1.6" />
<line x1="429.12" y1="502.6" x2="429.12" y2="498.6" stroke="#000" stroke-width="1.6" />
<line x1="455.7" y1="502.6" x2="455.7" y2="495.1" stroke="#000" stroke-width="1.6" />
<line x1="482.27" y1="502.6" x2="482.27" y2="498.6" stroke="#000" stroke-width="1.6" />
<line x1="508.85" y1="502.6" x2="508.85" y2="495.1" stroke="#000" stroke-width="1.6" />
<line x1="535.42" y1="502.6" x2="535.42" y2="498.6" stroke="#000" stroke-width="1.6" />
<line x1="349.4" y1="476.04" x2="353.4" y2="476.04" stroke="#000" stroke-width="1.6" />
<line x1="349.4" y1="449.48" x2="356.9" y2="449.48" stroke="#000" stroke-width="1.6" />
<line x1="349.4" y1="422.91" x2="353.4" y2="422.91" stroke="#000" stroke-width="1.6" />
<line x1="349.4" y1="396.35" x2="356.9" y2="396.35" stroke="#000" stroke-width="1.6" />
<line x1="349.4" y1="369.79" x2="353.4" y2="369.79" stroke="#000" stroke-width="1.6" />
<line x1="349.4" y1="343.23" x2="356.9" y2="343.23" stroke="#000" stroke-width="1.6" />
<line x1="349.4" y1="316.66" x2="353.4" y2="316.66" stroke="#000" stroke-width="1.6" />
<circle cx="429.12" cy="417.87" r="2.2" fill="none" stroke="#b02828" stroke-width="1.1"/>
<circle cx="442.41" cy="412.55" r="2.2" fill="none" stroke="#b02828" stroke-width="1.1"/>
<circle cx="455.7" cy="404.85" r="2.2" fill="none" stroke="#b02828" stroke-width="1.1"/>
<circle cx="468.99" cy="391.57" r="2.2" fill="none" stroke="#b02828" stroke-width="1.1"/>
<circle cx="482.27" cy="380.41" r="2.2" fill="none" stroke="#b02828" stroke-width="1.1"/>
<circle cx="495.56" cy="370.05" r="2.2" fill="none" stroke="#b02828" stroke-width="1.1"/>
<circle cx="508.85" cy="362.08" r="2.2" fill="none" stroke="#b02828" stroke-width="1.1"/>
<circle cx="522.14" cy="354.38" r="2.2" fill="none" stroke="#b02828" stroke-width="1.1"/>
<circle cx="535.42" cy="348.54" r="2.2" fill="none" stroke="#b02828" stroke-width="1.1"/>
<circle cx="548.71" cy="340.57" r="2.2" fill="none" stroke="#b02828" stroke-width="1.1"/>
<circle cx="562" cy="335.52" r="2.2" fill="none" stroke="#b02828" stroke-width="1.1"/>
<line x1="425.12" y1="349.33" x2="433.12" y2="349.33" stroke="#2a36cc" stroke-width="1.15" />
<line x1="429.12" y1="345.33" x2="429.12" y2="353.33" stroke="#2a36cc" stroke-width="1.15" />
<line x1="438.41" y1="346.41" x2="446.41" y2="346.41" stroke="#2a36cc" stroke-width="1.15" />
<line x1="442.41" y1="342.41" x2="442.41" y2="350.41" stroke="#2a36cc" stroke-width="1.15" />
<line x1="451.7" y1="341.37" x2="459.7" y2="341.37" stroke="#2a36cc" stroke-width="1.15" />
<line x1="455.7" y1="337.37" x2="455.7" y2="345.37" stroke="#2a36cc" stroke-width="1.15" />
<line x1="464.99" y1="333.13" x2="472.99" y2="333.13" stroke="#2a36cc" stroke-width="1.15" />
<line x1="468.99" y1="329.13" x2="468.99" y2="337.13" stroke="#2a36cc" stroke-width="1.15" />
<line x1="478.27" y1="325.16" x2="486.27" y2="325.16" stroke="#2a36cc" stroke-width="1.15" />
<line x1="482.27" y1="321.16" x2="482.27" y2="329.16" stroke="#2a36cc" stroke-width="1.15" />
<line x1="491.56" y1="319.32" x2="499.56" y2="319.32" stroke="#2a36cc" stroke-width="1.15" />
<line x1="495.56" y1="315.32" x2="495.56" y2="323.32" stroke="#2a36cc" stroke-width="1.15" />
<line x1="504.85" y1="311.88" x2="512.85" y2="311.88" stroke="#2a36cc" stroke-width="1.15" />
<line x1="508.85" y1="307.88" x2="508.85" y2="315.88" stroke="#2a36cc" stroke-width="1.15" />
<line x1="518.14" y1="307.63" x2="526.14" y2="307.63" stroke="#2a36cc" stroke-width="1.15" />
<line x1="522.14" y1="303.63" x2="522.14" y2="311.63" stroke="#2a36cc" stroke-width="1.15" />
<line x1="531.42" y1="306.04" x2="539.42" y2="306.04" stroke="#2a36cc" stroke-width="1.15" />
<line x1="535.42" y1="302.04" x2="535.42" y2="310.04" stroke="#2a36cc" stroke-width="1.15" />
<line x1="544.71" y1="304.18" x2="552.71" y2="304.18" stroke="#2a36cc" stroke-width="1.15" />
<line x1="548.71" y1="300.18" x2="548.71" y2="308.18" stroke="#2a36cc" stroke-width="1.15" />
<line x1="558" y1="300.73" x2="566" y2="300.73" stroke="#2a36cc" stroke-width="1.15" />
<line x1="562" y1="296.73" x2="562" y2="304.73" stroke="#2a36cc" stroke-width="1.15" />
<g clip-path="url(#clipD)">
<line x1="349.4" y1="478.16" x2="562" y2="325.96" stroke="#00c000" stroke-width="1.8" stroke-dasharray="5.200 9.300 0.010 8.490" stroke-dashoffset="0.200" stroke-linecap="round"/>
<line x1="349.4" y1="379.62" x2="562" y2="295.41" stroke="#ff0000" stroke-width="2.1" />
</g>
<rect x="349.4" y="290.1" width="212.6" height="212.5" fill="none" stroke="#000" stroke-width="1.6"/>
<line x1="376.3" y1="300" x2="415.4" y2="300" stroke="#00c000" stroke-width="1.8" stroke-dasharray="5.200 9.300 0.010 8.490" stroke-dashoffset="-0.900" stroke-linecap="round"/>
<line x1="376.3" y1="314.1" x2="417.7" y2="314.1" stroke="#ff0000" stroke-width="2.1" />
<text transform="translate(421.6,303.1) scale(0.92,1)" font-size="8.9"><tspan font-style="italic">L</tspan> = 200</text>
<text transform="translate(421.6,317.2) scale(0.92,1)" font-size="8.9"><tspan font-style="italic">L</tspan> = 400</text>
<text transform="translate(345.6,294) scale(0.97,1)" font-size="10.0" text-anchor="end" font-weight="normal" font-style="normal" fill="#000">8</text>
<text transform="translate(345.6,347.12) scale(0.97,1)" font-size="10.0" text-anchor="end" font-weight="normal" font-style="normal" fill="#000">6</text>
<text transform="translate(345.6,400.25) scale(0.97,1)" font-size="10.0" text-anchor="end" font-weight="normal" font-style="normal" fill="#000">4</text>
<text transform="translate(345.6,453.38) scale(0.97,1)" font-size="10.0" text-anchor="end" font-weight="normal" font-style="normal" fill="#000">2</text>
<text transform="translate(345.6,506.5) scale(0.97,1)" font-size="10.0" text-anchor="end" font-weight="normal" font-style="normal" fill="#000">0</text>
<text transform="translate(349.4,515.9) scale(0.97,1)" font-size="10.0" text-anchor="middle" font-weight="normal" font-style="normal" fill="#000">0.02</text>
<text transform="translate(402.55,515.9) scale(0.97,1)" font-size="10.0" text-anchor="middle" font-weight="normal" font-style="normal" fill="#000">0.04</text>
<text transform="translate(455.7,515.9) scale(0.97,1)" font-size="10.0" text-anchor="middle" font-weight="normal" font-style="normal" fill="#000">0.06</text>
<text transform="translate(508.85,515.9) scale(0.97,1)" font-size="10.0" text-anchor="middle" font-weight="normal" font-style="normal" fill="#000">0.08</text>
<text transform="translate(562,515.9) scale(0.97,1)" font-size="10.0" text-anchor="middle" font-weight="normal" font-style="normal" fill="#000">0.1</text>
<text transform="translate(455.8,528)" font-size="11.6" text-anchor="middle" font-weight="normal" font-style="italic" fill="#000">α</text>
<text transform="translate(336.1,396.2) rotate(-90)" font-size="12.5" text-anchor="middle" font-weight="normal" font-style="italic" fill="#000">K</text>
<text transform="translate(298.7,282.8) scale(0.945,1)" font-size="14.4" text-anchor="start" font-weight="bold" font-style="normal" fill="#000">(d)</text>
</svg>
</body></html>
